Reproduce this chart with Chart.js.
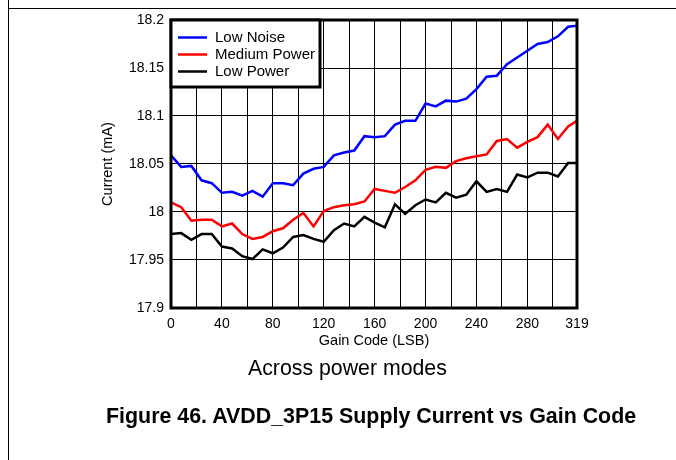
<!DOCTYPE html>
<html>
<head>
<meta charset="utf-8">
<title>AVDD_3P15 Supply Current vs Gain Code</title>
<script src="https://cdn.jsdelivr.net/npm/chart.js@4/dist/chart.umd.min.js"></script>
<style>
  body { margin: 0; background: #fff; font-family: "Liberation Sans", Arial, sans-serif; }
  #page { position: relative; width: 676px; height: 460px; overflow: hidden; }
  #chartBox { position: absolute; left: 0; top: 0; }
  .rule-v { position: absolute; left: 8px; top: 0; width: 1px; height: 460px; background: #000; }
  .rule-h { position: absolute; left: 8px; top: 8px; width: 668px; height: 1px; background: #000; }
  .caption { position: absolute; white-space: nowrap; color: #000; }
  #subCaption { left: 248px; top: 358px; font-size: 21.3px; line-height: 21px; }
  #figCaption { left: 106px; top: 406px; font-size: 21.4px; line-height: 21px; font-weight: bold; }
</style>
</head>
<body>
<div id="page">
  <div class="rule-v"></div>
  <div class="rule-h"></div>
  <div id="chartBox"><canvas id="myChart" width="676" height="460"></canvas></div>
  <div class="caption" id="subCaption">Across power modes</div>
  <div class="caption" id="figCaption">Figure 46. AVDD_3P15 Supply Current vs Gain Code</div>
</div>
<script>
// gain codes where the current was measured
const gainCodes = [0, 8, 16, 24, 32, 40, 48, 56, 64, 72, 80, 88, 96, 104, 112, 120, 128, 136, 144, 152,
  160, 168, 176, 184, 192, 200, 208, 216, 224, 232, 240, 248, 256, 264, 272, 280, 288, 296, 304, 312, 319];

// supply current in mA for each power mode
const lowNoise = [18.059, 18.047, 18.048, 18.033, 18.030, 18.020, 18.021, 18.017, 18.022, 18.016,
  18.030, 18.030, 18.028, 18.040, 18.045, 18.047, 18.059, 18.062, 18.064, 18.079,
  18.078, 18.079, 18.091, 18.095, 18.095, 18.113, 18.110, 18.116, 18.115, 18.118,
  18.128, 18.141, 18.142, 18.154, 18.161, 18.168, 18.175, 18.177, 18.183, 18.193, 18.194];
const mediumPower = [18.010, 18.005, 17.991, 17.992, 17.992, 17.985, 17.988, 17.977, 17.972, 17.974,
  17.980, 17.983, 17.992, 17.999, 17.985, 18.001, 18.005, 18.007, 18.008, 18.011,
  18.024, 18.022, 18.020, 18.026, 18.033, 18.044, 18.047, 18.046, 18.053, 18.056,
  18.058, 18.060, 18.074, 18.076, 18.067, 18.073, 18.078, 18.091, 18.076, 18.089, 18.095];
const lowPower = [17.977, 17.978, 17.971, 17.977, 17.977, 17.964, 17.962, 17.954, 17.951, 17.961,
  17.957, 17.963, 17.974, 17.976, 17.972, 17.969, 17.981, 17.988, 17.985, 17.995,
  17.989, 17.984, 18.008, 17.998, 18.007, 18.013, 18.010, 18.020, 18.015, 18.018,
  18.032, 18.021, 18.024, 18.021, 18.039, 18.036, 18.041, 18.041, 18.037, 18.051, 18.051];

const seriesNames = ["Low Noise", "Medium Power", "Low Power"];
const seriesColors = ["#0000ff", "#ff0000", "#000000"];

// axis grid and labels
const xGridCodes = [0, 20, 40, 60, 80, 100, 120, 140, 160, 180, 200, 220, 240, 260, 280, 300, 319];
const xTickLabels = [0, 40, 80, 120, 160, 200, 240, 280, 319];
const yTicks = [17.9, 17.95, 18, 18.05, 18.1, 18.15, 18.2];

const FONT = "'Liberation Sans', Arial, sans-serif";
Chart.defaults.font.family = FONT;
Chart.defaults.color = "#000";

function toPoints(values) {
  return values.map((v, i) => ({ x: gainCodes[i], y: v }));
}

// thick frame round the plot area
const frameBorder = {
  id: "frameBorder",
  afterDatasetsDraw(chart) {
    const { ctx, chartArea: a } = chart;
    ctx.save();
    ctx.strokeStyle = "#000";
    ctx.lineWidth = 3;
    ctx.strokeRect(a.left, a.top, a.right - a.left, a.bottom - a.top);
    ctx.restore();
  },
};

// boxed legend in the top-left corner of the plot
const boxLegend = {
  id: "boxLegend",
  afterDraw(chart) {
    const { ctx, chartArea: a } = chart;
    const w = 149, h = 67;
    ctx.save();
    ctx.fillStyle = "#fff";
    ctx.fillRect(a.left, a.top, w, h);
    ctx.strokeStyle = "#000";
    ctx.lineWidth = 3;
    ctx.strokeRect(a.left, a.top, w, h);
    ctx.font = `15px ${FONT}`;
    ctx.textBaseline = "middle";
    chart.data.datasets.forEach((ds, i) => {
      const y = a.top + 17.5 + i * 17;
      ctx.strokeStyle = ds.borderColor;
      ctx.lineWidth = 2.5;
      ctx.beginPath();
      ctx.moveTo(a.left + 7, y);
      ctx.lineTo(a.left + 36, y);
      ctx.stroke();
      ctx.fillStyle = "#000";
      ctx.fillText(ds.label, a.left + 44, y);
    });
    ctx.restore();
  },
};

const ctx = document.getElementById("myChart").getContext("2d");
const chart = new Chart(ctx, {
  type: "line",
  data: {
    datasets: [lowNoise, mediumPower, lowPower].map((values, i) => ({
      label: seriesNames[i],
      data: toPoints(values),
      borderColor: seriesColors[i],
      backgroundColor: seriesColors[i],
      borderWidth: 2.5,
      pointRadius: 0,
      tension: 0,
      fill: false,
    })),
  },
  options: {
    responsive: false,
    animation: false,
    layout: { padding: { left: 99, top: 20, right: 99, bottom: 110 } },
    plugins: {
      legend: { display: false },
      tooltip: { enabled: false },
    },
    scales: {
      x: {
        type: "linear",
        min: 0,
        max: 319,
        afterBuildTicks: (scale) => {
          scale.ticks = xGridCodes.map((v) => ({ value: v }));
        },
        afterFit: (scale) => {
          scale.height = 42;
        },
        ticks: {
          autoSkip: false,
          maxRotation: 0,
          padding: 8,
          font: { size: 14 },
          callback: (value) => (xTickLabels.includes(value) ? String(value) : ""),
        },
        grid: { color: "#000", lineWidth: 1, drawTicks: false },
        border: { display: false },
        title: { display: true, text: "Gain Code (LSB)", font: { size: 14.5 }, padding: 0 },
      },
      y: {
        min: 17.9,
        max: 18.2,
        afterBuildTicks: (scale) => {
          scale.ticks = yTicks.map((v) => ({ value: v }));
        },
        afterFit: (scale) => {
          scale.width = 72;
        },
        ticks: {
          padding: 7,
          font: { size: 14 },
          callback: (value) => String(value),
        },
        grid: { color: "#000", lineWidth: 1, drawTicks: false },
        border: { display: false },
        title: { display: true, text: "Current (mA)", font: { size: 14.5 }, padding: 0 },
      },
    },
  },
  plugins: [frameBorder, boxLegend],
});
</script>
</body>
</html>
